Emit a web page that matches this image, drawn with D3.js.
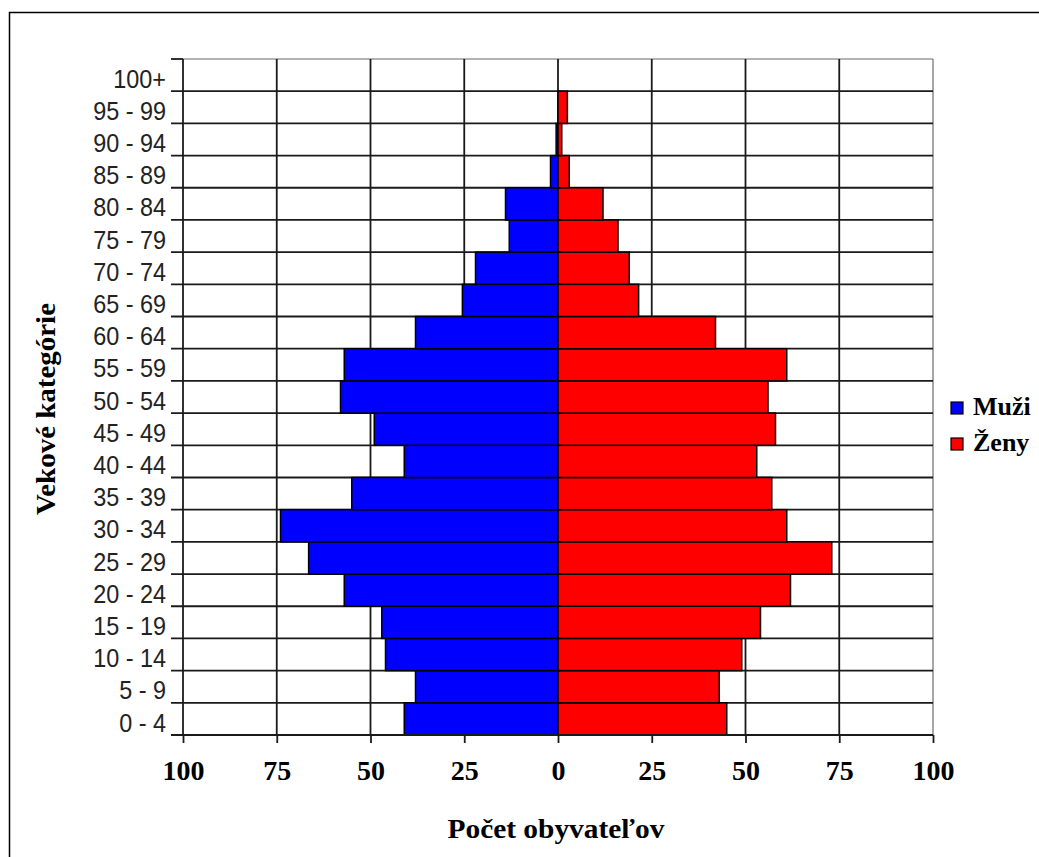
<!DOCTYPE html>
<html>
<head>
<meta charset="utf-8">
<script src="https://cdn.jsdelivr.net/npm/d3@7"></script>
<style>
  html, body { margin: 0; padding: 0; background: #fff; overflow: hidden; }
  svg { display: block; }
</style>
</head>
<body>
<svg id="chart" width="1039" height="857"></svg>
<script>
// ---- data (bottom to top) ----
const categories = ["0 - 4","5 - 9","10 - 14","15 - 19","20 - 24","25 - 29","30 - 34","35 - 39","40 - 44","45 - 49","50 - 54","55 - 59","60 - 64","65 - 69","70 - 74","75 - 79","80 - 84","85 - 89","90 - 94","95 - 99","100+"];
const muzi = [41, 38, 46, 47, 57, 66.5, 74, 55, 41, 49, 58, 57, 38, 25.5, 22, 13, 14, 2, 0.5, 0, 0];
const zeny = [45, 43, 49, 54, 62, 73, 61, 57, 53, 58, 56, 61, 42, 21.5, 19, 16, 12, 3, 1, 2.5, 0];
const xTicks = [-100, -75, -50, -25, 0, 25, 50, 75, 100];
const seriesNames = ["Muži", "Ženy"];
const seriesColors = ["#0000ff", "#ff0000"];
const yTitle = "Vekové kategórie";
const xTitle = "Počet obyvateľov";

const svg = d3.select("#chart");

// outer chart border
svg.append("rect").attr("x", 9.5).attr("y", 12.5).attr("width", 1100).attr("height", 1000)
  .attr("fill", "#fff").attr("stroke", "#000").attr("stroke-width", 1.5);

const pLeft = 183, pRight = 933, pTop = 59, pBottom = 735;
const x = d3.scaleLinear().domain([-100, 100]).range([pLeft, pRight]);
const y = d3.scaleBand().domain(categories.slice().reverse()).range([pTop, pBottom]).padding(0);

const rows = categories.map((c, i) => ({cat: c, m: muzi[i], z: zeny[i]}));

// plot area border (gray)
svg.append("line").attr("x1", pLeft).attr("x2", pRight).attr("y1", pTop).attr("y2", pTop)
  .attr("stroke", "#9a9a9a").attr("stroke-width", 1.5);
svg.append("line").attr("x1", pRight).attr("x2", pRight).attr("y1", pTop).attr("y2", pBottom)
  .attr("stroke", "#8a8a8a").attr("stroke-width", 1.5);

const gridColor = "#1a1a1a";
// vertical gridlines
svg.append("g").selectAll("line").data(xTicks.filter(d => d > -100 && d < 100)).join("line")
  .attr("x1", d => x(d)).attr("x2", d => x(d)).attr("y1", pTop).attr("y2", pBottom)
  .attr("stroke", gridColor).attr("stroke-width", 1.8);

// horizontal gridlines at category boundaries (interior) + ticks
const bounds = y.domain().slice(1).map(c => y(c));
svg.append("g").selectAll("line").data(bounds).join("line")
  .attr("x1", pLeft - 12).attr("x2", pRight).attr("y1", d => d).attr("y2", d => d)
  .attr("stroke", gridColor).attr("stroke-width", 1.8);
// top tick
svg.append("line").attr("x1", pLeft - 12).attr("x2", pLeft).attr("y1", pTop).attr("y2", pTop)
  .attr("stroke", gridColor).attr("stroke-width", 1.8);

// bars
const bars = svg.append("g");
bars.selectAll("rect.m").data(rows.filter(d => d.m > 0)).join("rect").attr("class", "m")
  .attr("x", d => x(-d.m)).attr("width", d => x(0) - x(-d.m))
  .attr("y", d => y(d.cat)).attr("height", y.bandwidth())
  .attr("fill", seriesColors[0]).attr("stroke", "#000").attr("stroke-width", 1.5);
bars.selectAll("rect.z").data(rows.filter(d => d.z > 0)).join("rect").attr("class", "z")
  .attr("x", x(0)).attr("width", d => x(d.z) - x(0))
  .attr("y", d => y(d.cat)).attr("height", y.bandwidth())
  .attr("fill", seriesColors[1]).attr("stroke", "#000").attr("stroke-width", 1.5);

// left axis line
svg.append("line").attr("x1", pLeft).attr("x2", pLeft).attr("y1", pTop).attr("y2", pBottom)
  .attr("stroke", gridColor).attr("stroke-width", 1.8);

// bottom axis
const xAxis = d3.axisBottom(x).tickValues(xTicks).tickSize(8).tickFormat(d => Math.abs(d));
const gx = svg.append("g").attr("transform", `translate(0,${pBottom})`).call(xAxis);
gx.select(".domain").remove();
gx.selectAll(".tick line").attr("stroke", gridColor).attr("stroke-width", 1.8);
gx.selectAll(".tick text")
  .attr("y", 45).attr("dy", null)
  .attr("font-family", "'Liberation Serif', 'Times New Roman', serif")
  .attr("font-weight", "bold").attr("font-size", 28).attr("fill", "#000");
svg.append("line").attr("x1", pLeft - 12).attr("x2", pRight).attr("y1", pBottom).attr("y2", pBottom)
  .attr("stroke", gridColor).attr("stroke-width", 1.8);

// category labels
svg.append("g").selectAll("text").data(categories).join("text")
  .attr("transform", d => `translate(166,${y(d) + y.bandwidth() - 3.5}) scale(0.9,1)`)
  .attr("text-anchor", "end")
  .attr("font-family", "'Liberation Sans', Arial, sans-serif")
  .attr("font-size", 26).attr("fill", "#222")
  .text(d => d);

// y title
svg.append("text")
  .attr("transform", "translate(55,409) rotate(-90)")
  .attr("text-anchor", "middle")
  .attr("font-family", "'Liberation Serif', 'Times New Roman', serif")
  .attr("font-weight", "bold").attr("font-size", 28)
  .attr("textLength", 212).attr("lengthAdjust", "spacingAndGlyphs")
  .text(yTitle);

// x title
svg.append("text")
  .attr("x", 556).attr("y", 838)
  .attr("text-anchor", "middle")
  .attr("font-family", "'Liberation Serif', 'Times New Roman', serif")
  .attr("font-weight", "bold").attr("font-size", 27)
  .attr("textLength", 217).attr("lengthAdjust", "spacingAndGlyphs")
  .text(xTitle);

// legend
const lg = svg.append("g").selectAll("g").data(seriesNames).join("g")
  .attr("transform", (d, i) => `translate(951,${402 + i * 36})`);
lg.append("rect").attr("width", 12).attr("height", 12)
  .attr("fill", (d, i) => seriesColors[i]).attr("stroke", "#000").attr("stroke-width", 1.2);
lg.append("text").attr("x", 22).attr("y", 13)
  .attr("font-family", "'Liberation Serif', 'Times New Roman', serif")
  .attr("font-weight", "bold").attr("font-size", 26).attr("fill", "#000")
  .text(d => d);
</script>
</body>
</html>
